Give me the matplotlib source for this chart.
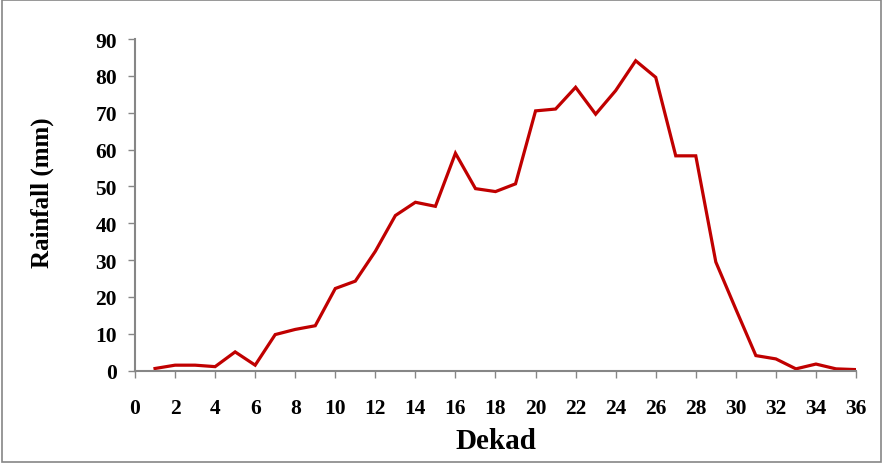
import matplotlib
matplotlib.use("Agg")
import matplotlib.pyplot as plt
from matplotlib.patches import Rectangle

# Data
dekad = list(range(1, 37))
rainfall = [0.6, 1.5, 1.5, 1.1, 5.1, 1.5, 9.8, 11.2, 12.2, 22.3,
            24.3, 32.4, 42.1, 45.7, 44.6, 59.0, 49.4, 48.6, 50.7, 70.5,
            71.0, 76.9, 69.6, 76.0, 84.1, 79.6, 58.3, 58.3, 29.5, 16.7,
            4.1, 3.2, 0.5, 1.8, 0.5, 0.3]
x_ticks = list(range(0, 37, 2))
y_ticks = list(range(0, 91, 10))

plt.rcParams['font.family'] = ['Liberation Serif', 'DejaVu Serif']

fig = plt.figure(figsize=(8.83, 4.64), dpi=100)
ax = fig.add_axes([135 / 883, 1 - 371.7 / 464, (856 - 135) / 883, (371.7 - 40) / 464])

ax.plot(dekad, rainfall, color='#C00000', linewidth=2.3, solid_joinstyle='miter')

ax.set_xlim(0, 36)
ax.set_ylim(0, 90)
ax.set_xticks(x_ticks)
ax.set_yticks(y_ticks)

for side in ['top', 'right']:
    ax.spines[side].set_visible(False)
for side in ['left', 'bottom']:
    ax.spines[side].set_color('#868686')
    ax.spines[side].set_linewidth(1.5)

ax.tick_params(axis='both', direction='out', length=5, width=1, color='#868686',
               labelsize=15.5)
ax.tick_params(axis='x', pad=15)
ax.tick_params(axis='y', pad=8)
for lbl in ax.get_xticklabels() + ax.get_yticklabels():
    lbl.set_fontweight('bold')

ax.set_xlabel('Dekad', fontsize=21, fontweight='bold', labelpad=6)
ax.set_ylabel('Rainfall (mm)', fontsize=18, fontweight='bold')
ax.yaxis.set_label_coords(-0.113, 0.539)

# outer chart border
fig.patches.append(Rectangle((0.002, 0.003), 0.996, 0.994, transform=fig.transFigure,
                             fill=False, edgecolor='#868686', linewidth=1.2))

fig.savefig('out.png', dpi=100)
